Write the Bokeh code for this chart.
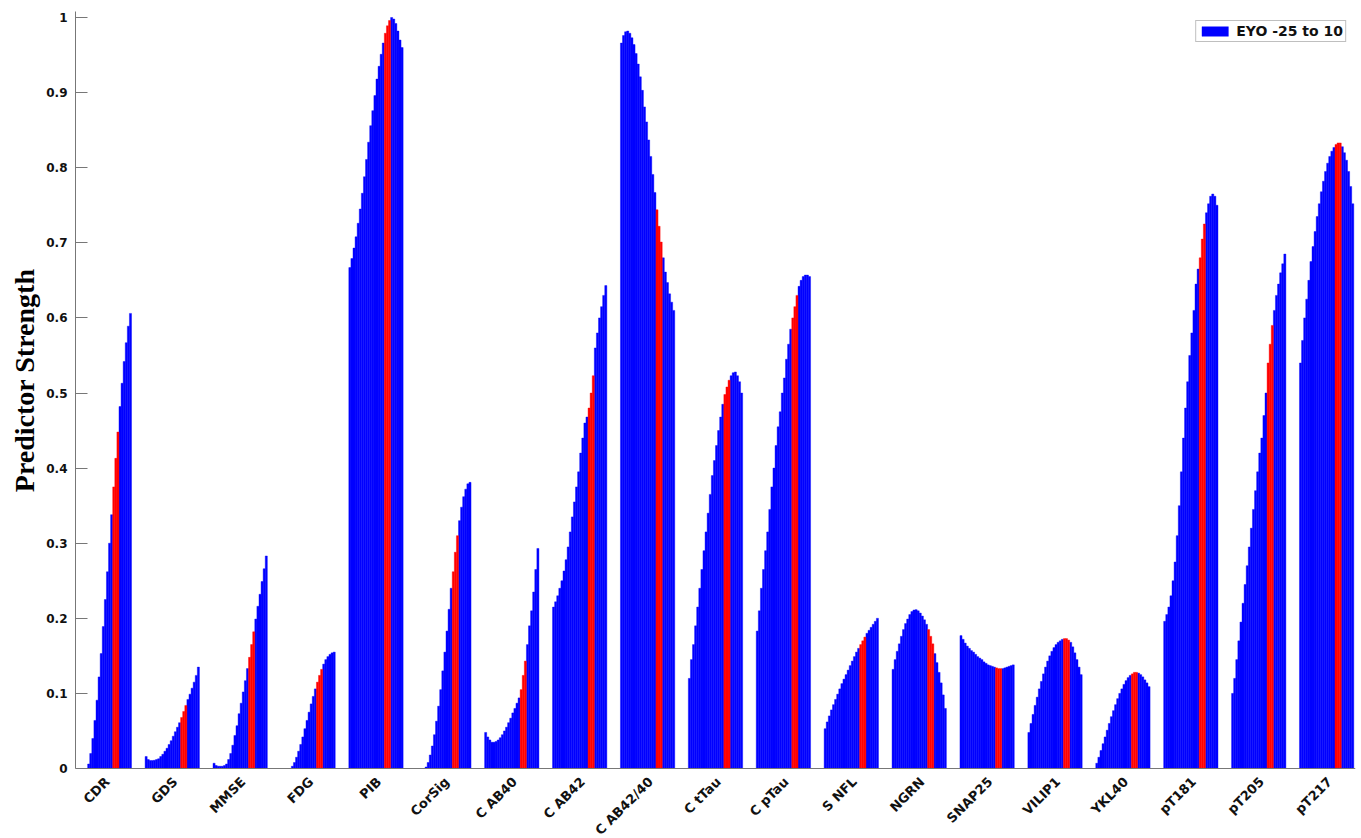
from bokeh.plotting import figure
from bokeh.models import (FixedTicker, Legend, LegendItem, ColumnDataSource, Range1d,
                          LabelSet, Span, Title)
from bokeh.core.properties import value
from bokeh.embed import file_html
from bokeh.resources import INLINE
import math

# ---------------- data ----------------
categories = ["CDR", "GDS", "MMSE", "FDG", "PIB", "CorSig", "C AB40", "C AB42",
              "C AB42/40", "C tTau", "C pTau", "S NFL", "NGRN", "SNAP25",
              "VILIP1", "YKL40", "pT181", "pT205", "pT217"]

# 26 values per marker, EYO -25 to 10 (step 1.4)
eyo = [round(-25 + 1.4 * i, 1) for i in range(26)]
red_eyo = [-1.2, 0.2, 1.6]   # highlighted bars

cdr = [0, 0, 0, 0, 0, 0.006, 0.020, 0.040, 0.064, 0.091, 0.122, 0.153, 0.189,
       0.225, 0.262, 0.300, 0.338, 0.375, 0.413, 0.448, 0.482, 0.513, 0.542,
       0.567, 0.589, 0.606]
gds = [0.016, 0.012, 0.0105, 0.0105, 0.011, 0.012, 0.013, 0.016, 0.019, 0.023,
       0.027, 0.032, 0.037, 0.043, 0.049, 0.055, 0.061, 0.068, 0.076, 0.084,
       0.092, 0.099, 0.107, 0.115, 0.124, 0.135]
mmse = [0.007, 0.004, 0.003, 0.003, 0.003, 0.004, 0.006, 0.012, 0.020, 0.031,
        0.044, 0.057, 0.073, 0.087, 0.102, 0.117, 0.133, 0.148, 0.165, 0.182,
        0.199, 0.216, 0.232, 0.249, 0.266, 0.283]
fdg = [0, 0, 0, 0, 0, 0.003, 0.008, 0.015, 0.023, 0.032, 0.042, 0.053, 0.064,
       0.075, 0.086, 0.096, 0.106, 0.115, 0.124, 0.132, 0.139, 0.145, 0.149,
       0.152, 0.154, 0.155]
pib = [0.667, 0.679, 0.693, 0.708, 0.726, 0.745, 0.766, 0.788, 0.811, 0.834,
       0.856, 0.876, 0.896, 0.918, 0.935, 0.951, 0.966, 0.979, 0.989, 0.996,
       1.0, 0.998, 0.992, 0.982, 0.970, 0.960]
corsig = [0, 0, 0, 0, 0.002, 0.008, 0.018, 0.030, 0.045, 0.063, 0.083, 0.105,
          0.130, 0.155, 0.183, 0.212, 0.240, 0.262, 0.288, 0.310, 0.330, 0.348,
          0.362, 0.372, 0.379, 0.381]
cab40 = [0.048, 0.042, 0.038, 0.035, 0.035, 0.036, 0.038, 0.041, 0.045, 0.050,
         0.055, 0.061, 0.067, 0.074, 0.080, 0.087, 0.094, 0.105, 0.124, 0.143,
         0.165, 0.190, 0.210, 0.235, 0.265, 0.293]
cab42 = [0.215, 0.222, 0.230, 0.240, 0.250, 0.263, 0.278, 0.295, 0.315, 0.335,
         0.355, 0.375, 0.395, 0.420, 0.440, 0.460, 0.468, 0.480, 0.500, 0.523,
         0.560, 0.580, 0.600, 0.615, 0.630, 0.643]
cab4240 = [0.966, 0.976, 0.981, 0.982, 0.979, 0.973, 0.964, 0.952, 0.938, 0.921,
           0.903, 0.881, 0.861, 0.837, 0.815, 0.791, 0.767, 0.744, 0.722, 0.701,
           0.680, 0.661, 0.647, 0.632, 0.621, 0.610]
cttau = [0.120, 0.145, 0.165, 0.190, 0.215, 0.240, 0.265, 0.290, 0.315, 0.340,
         0.365, 0.390, 0.410, 0.430, 0.450, 0.468, 0.485, 0.498, 0.508, 0.517,
         0.523, 0.527, 0.528, 0.523, 0.515, 0.500]
cptau = [0.183, 0.210, 0.240, 0.265, 0.290, 0.315, 0.345, 0.375, 0.400, 0.430,
         0.455, 0.475, 0.500, 0.520, 0.545, 0.565, 0.585, 0.600, 0.615, 0.630,
         0.642, 0.650, 0.655, 0.657, 0.657, 0.655]
snfl = [0.053, 0.062, 0.070, 0.078, 0.085, 0.092, 0.099, 0.106, 0.113, 0.119,
        0.125, 0.131, 0.137, 0.143, 0.149, 0.155, 0.160, 0.165, 0.170, 0.175,
        0.180, 0.184, 0.188, 0.192, 0.196, 0.200]
ngrn = [0.132, 0.145, 0.156, 0.166, 0.176, 0.185, 0.193, 0.199, 0.205, 0.209,
        0.211, 0.2115, 0.210, 0.207, 0.203, 0.198, 0.192, 0.185, 0.176, 0.166,
        0.153, 0.141, 0.128, 0.114, 0.098, 0.080]
snap25 = [0.177, 0.172, 0.167, 0.163, 0.160, 0.157, 0.155, 0.152, 0.149, 0.147,
          0.145, 0.142, 0.140, 0.138, 0.137, 0.136, 0.135, 0.134, 0.133, 0.133,
          0.133, 0.134, 0.135, 0.136, 0.137, 0.138]
vilip1 = [0.048, 0.060, 0.072, 0.084, 0.095, 0.106, 0.116, 0.126, 0.135, 0.143,
          0.150, 0.156, 0.161, 0.165, 0.168, 0.170, 0.172, 0.173, 0.173, 0.171,
          0.168, 0.162, 0.154, 0.145, 0.135, 0.125]
ykl40 = [0.007, 0.015, 0.024, 0.033, 0.042, 0.051, 0.060, 0.069, 0.077, 0.085,
         0.093, 0.100, 0.106, 0.112, 0.117, 0.121, 0.124, 0.126, 0.128, 0.128,
         0.127, 0.125, 0.122, 0.118, 0.114, 0.109]
pt181 = [0.196, 0.205, 0.215, 0.230, 0.250, 0.275, 0.310, 0.350, 0.395, 0.440,
         0.480, 0.515, 0.550, 0.580, 0.610, 0.645, 0.665, 0.680, 0.705, 0.725,
         0.740, 0.752, 0.762, 0.765, 0.762, 0.750]
pt205 = [0.100, 0.120, 0.145, 0.170, 0.195, 0.220, 0.245, 0.270, 0.295, 0.320,
         0.345, 0.370, 0.395, 0.420, 0.440, 0.470, 0.500, 0.540, 0.565, 0.590,
         0.610, 0.630, 0.645, 0.660, 0.672, 0.685]
pt217 = [0.540, 0.570, 0.600, 0.625, 0.650, 0.675, 0.695, 0.715, 0.735, 0.752,
         0.768, 0.782, 0.795, 0.806, 0.815, 0.822, 0.827, 0.831, 0.833, 0.833,
         0.828, 0.820, 0.810, 0.795, 0.775, 0.752]

series = [cdr, gds, mmse, fdg, pib, corsig, cab40, cab42, cab4240, cttau, cptau,
          snfl, ngrn, snap25, vilip1, ykl40, pt181, pt205, pt217]

yticks = [0, 0.1, 0.2, 0.3, 0.4, 0.5, 0.6, 0.7, 0.8, 0.9, 1]

# ---------------- layout ----------------
PX_PER_UNIT = 751.0          # vertical scale of the value axis
YTOP = 1.008
YBOT = -70 / PX_PER_UNIT     # room below zero for the rotated category labels

n = len(eyo)
gw = 0.8
bw = gw / n
blue = dict(x=[], top=[])
red = dict(x=[], top=[])
for g, vals in enumerate(series):
    for j, v in enumerate(vals):
        x = (g + 1) - gw / 2 + (j + 0.5) * bw
        tgt = red if eyo[j] in red_eyo else blue
        tgt["x"].append(x)
        tgt["top"].append(v)

p = figure(width=1361, height=838, output_backend="svg", toolbar_location=None,
           x_range=Range1d(0.575, 19.425), y_range=Range1d(YBOT, YTOP),
           x_axis_location=None,
           min_border_left=75, min_border_right=6, min_border_top=11,
           min_border_bottom=0)
p.outline_line_color = None
p.grid.visible = False
p.background_fill_color = "white"

rb = p.vbar(x="x", top="top", width=bw, bottom=0, source=ColumnDataSource(blue),
            fill_color="#0000FF", line_color="#0000FF", line_width=0.4)
rr = p.vbar(x="x", top="top", width=bw, bottom=0, source=ColumnDataSource(red),
            fill_color="#FF0000", line_color="#FF0000", line_width=0.4)

# x axis line at zero
p.add_layout(Span(location=0, dimension="width", line_color="#777777", line_width=1))

# y axis
ya = p.yaxis[0]
ya.bounds = (0, YTOP)
ya.ticker = FixedTicker(ticks=yticks)
ya.major_label_overrides = {0: "0", 1: "1"}
ya.major_tick_in = 12
ya.major_tick_out = 0
ya.minor_tick_line_color = None
ya.axis_line_color = "#777777"
ya.major_tick_line_color = "#777777"
ya.major_label_text_font = "DejaVu Sans"
ya.major_label_text_font_style = "bold"
ya.major_label_text_font_size = "12px"
ya.major_label_text_color = "#111111"
ya.major_label_standoff = 8

ytitle = Title(text="Predictor Strength", align="right", offset=257,
               text_font="Liberation Serif", text_font_style="bold",
               text_font_size="28px", text_color="#000000", standoff=8)
p.add_layout(ytitle, "left")

# category labels, rotated 45 degrees, ending just below each group
lab_src = ColumnDataSource(dict(x=list(range(1, len(categories) + 1)),
                                y=[-11 / PX_PER_UNIT] * len(categories),
                                text=categories))
labels = LabelSet(x="x", y="y", text="text", source=lab_src, angle=math.pi / 4,
                  x_offset=3, text_align="right", text_baseline="middle",
                  text_font=value("DejaVu Sans"), text_font_style=value("bold"),
                  text_font_size=value("13px"), text_color="#111111")
p.add_layout(labels)

legend = Legend(items=[LegendItem(label="EYO -25 to 10", renderers=[rb])],
                location="top_right")
legend.margin = 9
legend.padding = 2
legend.spacing = 0
legend.glyph_width = 33
legend.glyph_height = 12
legend.label_height = 12
legend.label_standoff = 5
legend.label_text_font = "DejaVu Sans"
legend.label_text_font_style = "bold"
legend.label_text_font_size = "14px"
legend.label_text_color = "#111111"
legend.border_line_color = "#808080"
legend.border_line_width = 1
legend.background_fill_color = "white"
legend.background_fill_alpha = 1
p.add_layout(legend)

open("out.html", "w").write(file_html(p, INLINE))
